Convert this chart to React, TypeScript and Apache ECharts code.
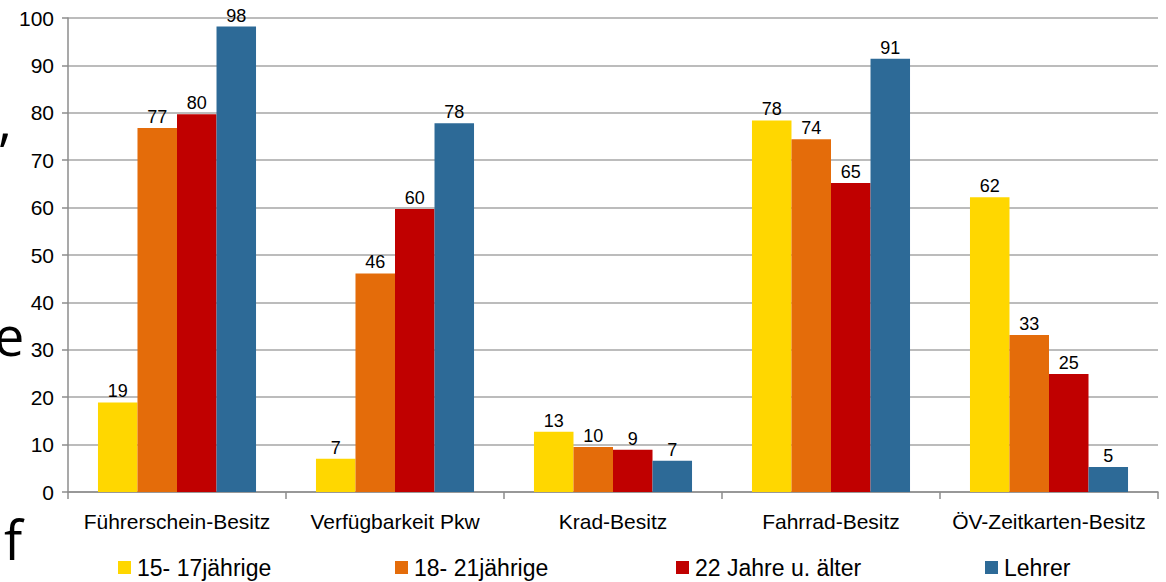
import React, { useEffect, useRef } from "react";
import * as echarts from "echarts";

const categories = ["Führerschein-Besitz", "Verfügbarkeit Pkw", "Krad-Besitz", "Fahrrad-Besitz", "ÖV-Zeitkarten-Besitz"];
const seriesNames = ["15- 17jährige", "18- 21jährige", "22 Jahre u. älter", "Lehrer"];
const s1 = [18.9, 7.0, 12.7, 78.4, 62.2];
const s2 = [76.8, 46.1, 9.5, 74.4, 33.1];
const s3 = [79.7, 59.7, 8.9, 65.2, 24.9];
const s4 = [98.2, 77.8, 6.6, 91.4, 5.3];
const colors = ["#FFD700", "#E46C0A", "#C00000", "#2D6A97"];
const yTicks = [0, 10, 20, 30, 40, 50, 60, 70, 80, 90, 100];
const legendLeft = [118, 395, 676, 985];

export default function App() {
  const ref = useRef<HTMLDivElement>(null);
  useEffect(() => {
    if (!ref.current) return;
    const chart = echarts.init(ref.current, null, { renderer: "svg" });
    const font = "'Liberation Sans', Arial, sans-serif";
    const data = [s1, s2, s3, s4];
    chart.setOption({
      animation: false,
      textStyle: { fontFamily: font },
      grid: { left: 68, right: 8, top: 18, bottom: 90, containLabel: false },
      legend: seriesNames.map((n, i) => ({
        data: [n],
        left: legendLeft[i],
        top: 556,
        itemWidth: 13,
        itemHeight: 13,
        itemGap: 5,
        icon: "rect",
        textStyle: { fontSize: 23, color: "#000", fontFamily: font, padding: [0, 0, 0, 1] },
        padding: 0,
      })),
      xAxis: {
        type: "category",
        data: categories,
        axisLine: { lineStyle: { color: "#8c8c8c", width: 1.5 } },
        axisTick: { show: true, length: 7, lineStyle: { color: "#8c8c8c", width: 1.5 } },
        axisLabel: { fontSize: 21, color: "#000", margin: 19, interval: 0 },
      },
      yAxis: {
        type: "value",
        min: yTicks[0],
        max: yTicks[yTicks.length - 1],
        interval: 10,
        axisLine: { show: true, lineStyle: { color: "#8c8c8c", width: 1.5 } },
        axisTick: { show: true, length: 6, lineStyle: { color: "#8c8c8c", width: 1.5 } },
        axisLabel: { fontSize: 21, color: "#000", margin: 14 },
        splitLine: { lineStyle: { color: "#a6a6a6", width: 1.5 } },
      },
      series: data.map((d, i) => ({
        type: "bar",
        name: seriesNames[i],
        data: d,
        barGap: "0%",
        barCategoryGap: "27.5%",
        itemStyle: { color: colors[i] },
        label: {
          show: true,
          position: "top",
          distance: 2,
          fontSize: 18,
          color: "#000",
          formatter: (p: any) => String(Math.round(p.value)),
        },
      })),
      graphic: [
        { type: "text", left: -2, top: 92, style: { text: ",", fontSize: 54, fill: "#000", fontFamily: "'Open Sans', sans-serif" } },
        { type: "text", left: -6, top: 308, style: { text: "e", fontSize: 54, fill: "#000", fontFamily: "'Open Sans', sans-serif" } },
        { type: "text", left: 4, top: 512, style: { text: "f", fontSize: 54, fill: "#000", fontFamily: "'Open Sans', sans-serif" } },
      ],
    });
    return () => chart.dispose();
  }, []);
  return <div ref={ref} style={{ width: 1166, height: 582, position: "absolute", left: 0, top: 0 }} />;
}
